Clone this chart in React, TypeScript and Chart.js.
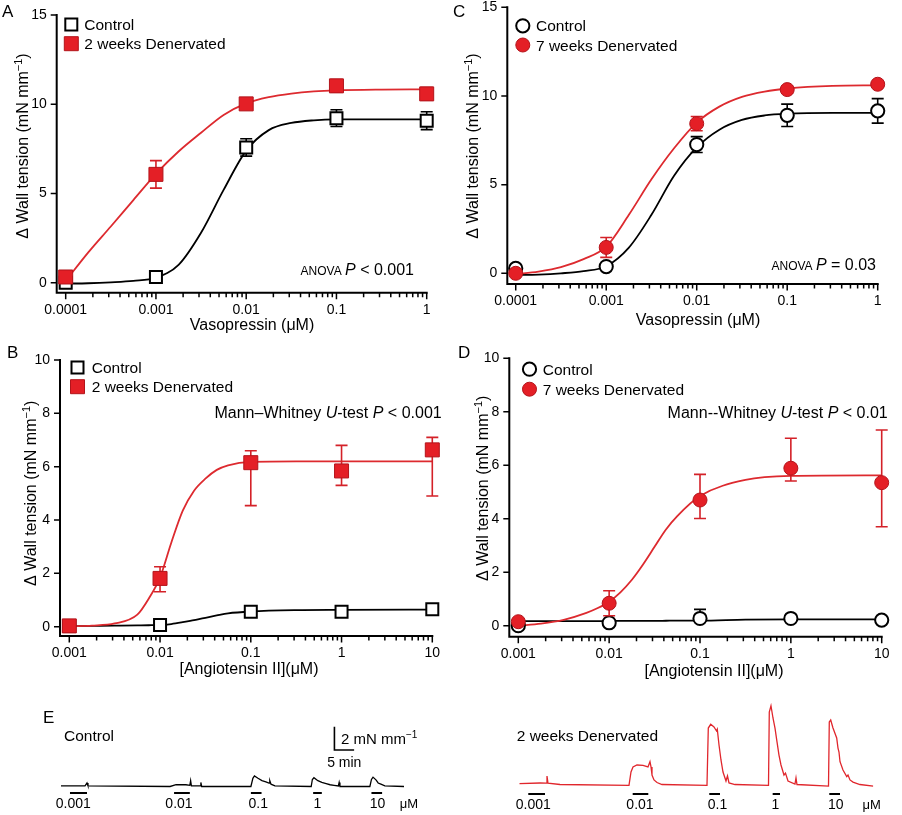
import React, { useEffect, useRef } from 'react';
import { Chart, registerables } from 'chart.js';

Chart.register(...registerables);

const FAMILY = '"Liberation Sans", Arial, Helvetica, sans-serif';
const RED = '#e41f26';
const RED_EDGE = '#b3141b';
const RED_LINE = '#dd2a2f';
const RED_ERR = '#d42128';
const RED_TRACE = '#e0262c';

// ---------- Vasopressin (panels A, C) ----------
const VASO_CONC = [0.0001, 0.001, 0.01, 0.1, 1];
const VASO_TICKS = [0.0001, 0.001, 0.01, 0.1, 1];
const VASO_TICK_LABELS = ['0.0001', '0.001', '0.01', '0.1', '1'];
const VASO_FIT_CONC = [0.0001, 0.000178, 0.000316, 0.000562, 0.001, 0.00178, 0.00316, 0.00562, 0.01, 0.0178, 0.0316, 0.0562, 0.1, 0.316, 1];
const VASO_Y_TICKS = [0, 5, 10, 15];
const VASO_Y_LABELS = ['0', '5', '10', '15'];

const A_CTRL_MEAN = [0.0, 0.32, 7.58, 9.22, 9.08];
const A_CTRL_SEM = [0.1, 0.12, 0.49, 0.47, 0.5];
const A_DEN_MEAN = [0.32, 6.07, 10.02, 11.03, 10.58];
const A_DEN_SEM = [0.15, 0.77, 0.22, 0.35, 0.35];
const A_CTRL_FIT = [-0.05, -0.03, 0.02, 0.1, 0.28, 1.0, 2.8, 5.2, 7.4, 8.55, 8.95, 9.1, 9.15, 9.15, 9.15];
const A_DEN_FIT = [0.1, 1.7, 3.15, 4.63, 6.1, 7.35, 8.4, 9.4, 10.05, 10.4, 10.6, 10.72, 10.78, 10.82, 10.83];

const C_CTRL_MEAN = [0.28, 0.38, 7.26, 8.91, 9.16];
const C_CTRL_SEM = [0.1, 0.1, 0.45, 0.63, 0.69];
const C_DEN_MEAN = [0.0, 1.46, 8.44, 10.36, 10.66];
const C_DEN_SEM = [0.1, 0.56, 0.4, 0.2, 0.15];
const C_CTRL_FIT = [-0.1, -0.07, 0.0, 0.12, 0.4, 1.45, 3.3, 5.5, 7.1, 8.1, 8.65, 8.9, 9.0, 9.05, 9.05];
const C_DEN_FIT = [-0.05, 0.1, 0.35, 0.8, 1.5, 3.3, 5.3, 7.05, 8.5, 9.4, 9.95, 10.25, 10.42, 10.57, 10.6];

// ---------- Angiotensin II (panels B, D) ----------
const ANG_CONC = [0.001, 0.01, 0.1, 1, 10];
const ANG_TICKS = [0.001, 0.01, 0.1, 1, 10];
const ANG_TICK_LABELS = ['0.001', '0.01', '0.1', '1', '10'];
const ANG_FIT_CONC = [0.001, 0.00178, 0.00316, 0.00562, 0.0075, 0.01, 0.0133, 0.0178, 0.0237, 0.0316, 0.0422, 0.0562, 0.1, 0.316, 1, 10];
const ANG_Y_TICKS = [0, 2, 4, 6, 8, 10];
const ANG_Y_LABELS = ['0', '2', '4', '6', '8', '10'];

const B_CTRL_MEAN = [0.03, 0.06, 0.56, 0.56, 0.65];
const B_CTRL_UP = [0.05, 0.05, 0.1, 0.1, 0.1];
const B_CTRL_DOWN = [0.05, 0.05, 0.1, 0.1, 0.1];
const B_DEN_MEAN = [0.03, 1.81, 6.15, 5.84, 6.63];
const B_DEN_UP = [0.05, 0.44, 0.45, 0.96, 0.47];
const B_DEN_DOWN = [0.05, 0.5, 1.61, 0.54, 1.73];
const B_CTRL_FIT = [0.02, 0.03, 0.04, 0.05, 0.055, 0.06, 0.1, 0.17, 0.25, 0.33, 0.42, 0.5, 0.57, 0.62, 0.63, 0.64];
const B_DEN_FIT = [0.02, 0.04, 0.12, 0.45, 1.05, 1.85, 3.15, 4.35, 5.1, 5.55, 5.88, 6.05, 6.18, 6.2, 6.2, 6.2];

const D_CTRL_MEAN = [0.0, 0.11, 0.27, 0.27, 0.21];
const D_CTRL_UP = [0.05, 0.05, 0.34, 0.05, 0.05];
const D_CTRL_DOWN = [0.05, 0.05, 0.05, 0.05, 0.05];
const D_DEN_MEAN = [0.15, 0.84, 4.7, 5.89, 5.35];
const D_DEN_UP = [0.05, 0.47, 0.96, 1.12, 1.97];
const D_DEN_DOWN = [0.05, 0.47, 0.69, 0.48, 1.65];
const D_CTRL_FIT = [0.17, 0.17, 0.17, 0.17, 0.17, 0.18, 0.18, 0.18, 0.18, 0.18, 0.185, 0.19, 0.19, 0.23, 0.24, 0.24];
const D_DEN_FIT = [0.0, 0.08, 0.22, 0.48, 0.66, 0.9, 1.25, 1.72, 2.3, 2.95, 3.6, 4.1, 4.85, 5.45, 5.6, 5.62];

// ---------- Panel E traces (time in min, tension in mN/mm) ----------
const E_CTRL_TIME = [0, 6.1, 6.6, 6.85, 27.7, 29.2, 31.7, 32.7, 32.9, 33.1, 35.4, 35.5, 35.7, 48.2, 48.7, 49.1, 50.0, 51.0, 52.0, 52.8, 53.0, 53.3, 54.3, 63.5, 63.8, 64.2, 65.2, 66.2, 67.3, 68.3, 69.3, 70.4, 70.6, 70.8, 78.4, 78.8, 79.2, 80.0, 80.5, 81.2, 82.2, 87.06];
const E_CTRL_TENSION = [0.05, 0.05, 0.3, 0.05, 0.0, 0.15, 0.15, 0.1, 0.5, 0.05, 0.05, 0.35, 0.0, 0.0, 0.7, 0.9, 0.7, 0.5, 0.4, 0.3, 0.5, 0.2, 0.05, 0.0, 0.6, 0.75, 0.5, 0.35, 0.25, 0.15, 0.1, 0.05, 0.35, 0.0, 0.0, 0.6, 0.8, 0.55, 0.3, 0.2, 0.05, 0.0];
const E_DEN_TIME = [0, 5.25, 6.78, 7.03, 7.28, 10.33, 27.84, 28.35, 28.86, 29.87, 31.4, 32.66, 33.17, 33.43, 33.68, 34.19, 34.95, 36.22, 47.64, 47.97, 48.58, 49.42, 50.05, 50.25, 50.69, 51.19, 51.7, 52.46, 52.84, 53.22, 54.75, 63.25, 63.45, 63.88, 64.39, 64.9, 65.41, 65.91, 66.42, 67.18, 67.56, 68.2, 69.97, 70.23, 70.48, 78.48, 78.68, 79.04, 79.62, 80.56, 80.89, 81.14, 81.4, 82.16, 83.1, 83.43, 83.93, 84.7, 86.45, 89.85];
const E_DEN_TENSION = [0.24, 0.3, 0.28, 0.9, 0.28, 0.17, 0.09, 1.24, 1.67, 1.84, 1.8, 1.67, 2.12, 1.67, 0.98, 0.56, 0.34, 0.17, 0.09, 5.0, 5.32, 5.09, 4.75, 4.9, 3.55, 2.27, 1.24, 0.47, 0.9, 0.3, 0.17, 0.09, 6.37, 6.91, 5.86, 5.0, 3.81, 2.69, 1.84, 0.98, 1.15, 0.47, 0.21, 0.73, 0.17, 0.04, 5.52, 5.69, 5.0, 4.15, 3.29, 2.95, 2.12, 1.41, 0.84, 0.98, 0.56, 0.38, 0.17, 0.04];
const DOSE_LABELS = ['0.001', '0.01', '0.1', '1', '10'];
const E_CTRL_APP_START = [2.28, 28.7, 48.2, 64.0, 78.8];
const E_CTRL_APP_END = [6.6, 32.7, 50.9, 66.2, 81.5];
const E_CTRL_LABEL_T = [3.12, 29.95, 50.08, 65.1, 80.33];
const E_DEN_APP_START = [2.28, 28.78, 48.22, 64.31, 78.68];
const E_DEN_APP_END = [6.52, 32.74, 50.94, 66.17, 81.4];
const E_DEN_LABEL_T = [3.55, 30.63, 50.3, 65.02, 80.33];
const SCALE_BAR_T = [69.4, 69.4, 74.4];
const SCALE_BAR_Y = [5.12, 3.12, 3.12];

type Part = { text: string; size: number; italic?: boolean; dy?: number };

function setFont(ctx: any, p: Part) {
  ctx.font = `${p.italic ? 'italic ' : ''}${p.size}px ${FAMILY}`;
}

function drawParts(ctx: any, parts: Part[], x: number, y: number, align: 'left' | 'right' | 'center') {
  let total = 0;
  const widths = parts.map((p) => {
    setFont(ctx, p);
    const w = ctx.measureText(p.text).width;
    total += w;
    return w;
  });
  let cx = align === 'left' ? x : align === 'right' ? x - total : x - total / 2;
  ctx.textAlign = 'left';
  ctx.textBaseline = 'alphabetic';
  ctx.fillStyle = '#000';
  parts.forEach((p, i) => {
    setFont(ctx, p);
    ctx.fillText(p.text, cx, y + (p.dy || 0));
    cx += widths[i];
  });
}

function drawLegendMarker(ctx: any, shape: string, filled: boolean, x: number, y: number) {
  ctx.save();
  ctx.beginPath();
  if (shape === 'rect') {
    const s = filled ? 14 : 12;
    ctx.rect(x - s / 2, y - s / 2, s, s);
  } else {
    ctx.arc(x, y, filled ? 7 : 6.6, 0, Math.PI * 2);
  }
  ctx.fillStyle = filled ? RED : '#fff';
  ctx.fill();
  ctx.lineWidth = filled ? 1 : 2;
  ctx.strokeStyle = filled ? RED_EDGE : '#000';
  ctx.stroke();
  ctx.restore();
}

function drawErrorBars(chart: any, ds: any) {
  const ctx = chart.ctx;
  const xs = chart.scales.x;
  const ys = chart.scales.y;
  ctx.save();
  ctx.strokeStyle = ds.errColor;
  ctx.lineWidth = 1.6;
  ctx.beginPath();
  ds.data.forEach((p: any, i: number) => {
    const px = xs.getPixelForValue(p.x);
    const yt = ys.getPixelForValue(p.y + ds.errUp[i]);
    const yb = ys.getPixelForValue(p.y - ds.errDown[i]);
    ctx.moveTo(px, yt);
    ctx.lineTo(px, yb);
    ctx.moveTo(px - 6, yt);
    ctx.lineTo(px + 6, yt);
    ctx.moveTo(px - 6, yb);
    ctx.lineTo(px + 6, yb);
  });
  ctx.stroke();
  ctx.restore();
}

const Y_TITLE: Part[] = [
  { text: 'Δ Wall tension (mN mm', size: 16 },
  { text: '−1', size: 11, dy: -6 },
  { text: ')', size: 16 },
];

type PanelSpec = {
  left: number; top: number; width: number; height: number;
  area: { l: number; r: number; t: number; b: number };
  xMin: number; xMax: number; yMin: number; yMax: number;
  xTicks: number[]; xLabels: string[]; yTicks: number[]; yLabels: string[];
  conc: number[];
  ctrlMean: number[]; ctrlUp: number[]; ctrlDown: number[];
  denMean: number[]; denUp: number[]; denDown: number[];
  fitConc: number[]; ctrlFit: number[]; denFit: number[];
  shape: 'rect' | 'circle';
  ctrlLabel: string; denLabel: string;
  letter: string; letterPos: [number, number];
  legendX: number; legendY: [number, number]; legendTextX: number;
  yTitlePos: [number, number];
  xTitle: string; xTitlePos: [number, number];
  note: Part[]; notePos: [number, number];
};

function panelPlugin(s: PanelSpec) {
  const X = (p: number) => p - s.left;
  const Y = (p: number) => p - s.top;
  const minor: number[] = [];
  for (let i = 0; i < s.xTicks.length - 1; i++) {
    for (let k = 2; k <= 9; k++) minor.push(s.xTicks[i] * k);
  }
  return {
    id: 'decor' + s.letter,
    beforeDatasetsDraw(chart: any) {
      const { ctx, chartArea: a } = chart;
      const xs = chart.scales.x;
      const ys = chart.scales.y;
      ctx.save();
      ctx.strokeStyle = '#000';
      ctx.lineWidth = 2;
      ctx.lineCap = 'square';
      ctx.beginPath();
      ctx.moveTo(a.left, a.top);
      ctx.lineTo(a.left, a.bottom);
      ctx.lineTo(a.right, a.bottom);
      ctx.stroke();
      ctx.lineCap = 'butt';
      ctx.lineWidth = 1.5;
      ctx.beginPath();
      s.yTicks.forEach((v) => {
        const p = ys.getPixelForValue(v);
        ctx.moveTo(a.left - 6, p);
        ctx.lineTo(a.left, p);
      });
      s.xTicks.forEach((v) => {
        const p = xs.getPixelForValue(v);
        ctx.moveTo(p, a.bottom);
        ctx.lineTo(p, a.bottom + 6.5);
      });
      minor.forEach((v) => {
        const p = xs.getPixelForValue(v);
        ctx.moveTo(p, a.bottom);
        ctx.lineTo(p, a.bottom + 4.5);
      });
      ctx.stroke();
      ctx.restore();
    },
    beforeDatasetDraw(chart: any, args: any) {
      const ds = chart.data.datasets[args.index];
      if (ds.errUp) drawErrorBars(chart, ds);
    },
    afterDraw(chart: any) {
      const ctx = chart.ctx;
      ctx.save();
      drawParts(ctx, [{ text: s.letter, size: 17 }], X(s.letterPos[0]), Y(s.letterPos[1]), 'left');
      drawLegendMarker(ctx, s.shape, false, X(s.legendX), Y(s.legendY[0]));
      drawLegendMarker(ctx, s.shape, true, X(s.legendX), Y(s.legendY[1]));
      drawParts(ctx, [{ text: s.ctrlLabel, size: 15.5 }], X(s.legendTextX), Y(s.legendY[0]) + 5.6, 'left');
      drawParts(ctx, [{ text: s.denLabel, size: 15.5 }], X(s.legendTextX), Y(s.legendY[1]) + 5.6, 'left');
      drawParts(ctx, [{ text: s.xTitle, size: 16 }], X(s.xTitlePos[0]), Y(s.xTitlePos[1]) + 5.8, 'center');
      drawParts(ctx, s.note, X(s.notePos[0]), Y(s.notePos[1]) + 5.8, 'right');
      ctx.save();
      ctx.translate(X(s.yTitlePos[0]), Y(s.yTitlePos[1]));
      ctx.rotate(-Math.PI / 2);
      drawParts(ctx, Y_TITLE, 0, 5.8, 'center');
      ctx.restore();
      ctx.restore();
    },
  };
}

function makePanelConfig(s: PanelSpec): any {
  const pts = (xs: number[], ys: number[]) => xs.map((x, i) => ({ x, y: ys[i] }));
  const filledR = s.shape === 'rect' ? 9.9 : 7;
  const openR = s.shape === 'rect' ? 8.49 : 6.6;
  const tickFont = { family: FAMILY, size: 14, lineHeight: 1 };
  return {
    type: 'line',
    data: {
      datasets: [
        {
          label: s.denLabel, data: pts(s.conc, s.denMean), showLine: false,
          pointStyle: s.shape, pointRadius: filledR, pointHoverRadius: filledR,
          pointBackgroundColor: RED, pointBorderColor: RED_EDGE, pointBorderWidth: 1,
          clip: false, errUp: s.denUp, errDown: s.denDown, errColor: RED_ERR,
        },
        {
          label: s.ctrlLabel, data: pts(s.conc, s.ctrlMean), showLine: false,
          pointStyle: s.shape, pointRadius: openR, pointHoverRadius: openR,
          pointBackgroundColor: '#ffffff', pointBorderColor: '#000000', pointBorderWidth: 2,
          clip: false, errUp: s.ctrlUp, errDown: s.ctrlDown, errColor: '#000000',
        },
        {
          label: s.denLabel + ' fit', data: pts(s.fitConc, s.denFit),
          borderColor: RED_LINE, borderWidth: 1.8, pointRadius: 0, cubicInterpolationMode: 'monotone',
        },
        {
          label: s.ctrlLabel + ' fit', data: pts(s.fitConc, s.ctrlFit),
          borderColor: '#000000', borderWidth: 1.8, pointRadius: 0, cubicInterpolationMode: 'monotone',
        },
      ],
    },
    options: {
      responsive: false,
      animation: false,
      devicePixelRatio: 1,
      events: [],
      layout: {
        padding: { left: 0, top: s.area.t - s.top, right: s.left + s.width - s.area.r, bottom: 0 },
      },
      plugins: { legend: { display: false }, tooltip: { enabled: false }, title: { display: false } },
      scales: {
        x: {
          type: 'logarithmic', position: 'bottom', min: s.xMin, max: s.xMax,
          afterBuildTicks: (sc: any) => { sc.ticks = s.xTicks.map((v) => ({ value: v })); },
          afterFit: (sc: any) => { sc.height = s.top + s.height - s.area.b; },
          grid: { display: false, drawTicks: true, tickLength: 10 },
          border: { display: false },
          ticks: {
            autoSkip: false, maxRotation: 0, minRotation: 0, padding: 0, color: '#000',
            font: tickFont, callback: (_v: any, i: number) => s.xLabels[i] ?? '',
          },
        },
        y: {
          type: 'linear', position: 'left', min: s.yMin, max: s.yMax,
          afterBuildTicks: (sc: any) => { sc.ticks = s.yTicks.map((v) => ({ value: v })); },
          afterFit: (sc: any) => { sc.width = s.area.l - s.left; },
          grid: { display: false, drawTicks: true, tickLength: 10 },
          border: { display: false },
          ticks: {
            autoSkip: false, padding: 0, color: '#000', font: tickFont,
            callback: (_v: any, i: number) => s.yLabels[i] ?? '',
          },
        },
      },
    },
    plugins: [panelPlugin(s)],
  };
}

const PANEL_A: PanelSpec = {
  left: 0, top: -20, width: 450, height: 355,
  area: { l: 56.7, r: 426.7, t: 15, b: 292.7 },
  xMin: 0.0000795, xMax: 1, yMin: -0.56, yMax: 15,
  xTicks: VASO_TICKS, xLabels: VASO_TICK_LABELS, yTicks: VASO_Y_TICKS, yLabels: VASO_Y_LABELS,
  conc: VASO_CONC, ctrlMean: A_CTRL_MEAN, ctrlUp: A_CTRL_SEM, ctrlDown: A_CTRL_SEM,
  denMean: A_DEN_MEAN, denUp: A_DEN_SEM, denDown: A_DEN_SEM,
  fitConc: VASO_FIT_CONC, ctrlFit: A_CTRL_FIT, denFit: A_DEN_FIT,
  shape: 'rect', ctrlLabel: 'Control', denLabel: '2 weeks Denervated',
  letter: 'A', letterPos: [2, 17],
  legendX: 71.3, legendY: [24.5, 43.7], legendTextX: 84.3,
  yTitlePos: [22, 146], xTitle: 'Vasopressin (μM)', xTitlePos: [252, 324],
  note: [{ text: 'ANOVA ', size: 12 }, { text: 'P', size: 16, italic: true }, { text: ' < 0.001', size: 16 }],
  notePos: [414, 269.3],
};

const PANEL_C: PanelSpec = {
  left: 450, top: -20, width: 452, height: 355,
  area: { l: 507.3, r: 877.7, t: 7.3, b: 284 },
  xMin: 0.0000807, xMax: 1, yMin: -0.603, yMax: 15,
  xTicks: VASO_TICKS, xLabels: VASO_TICK_LABELS, yTicks: VASO_Y_TICKS, yLabels: VASO_Y_LABELS,
  conc: VASO_CONC, ctrlMean: C_CTRL_MEAN, ctrlUp: C_CTRL_SEM, ctrlDown: C_CTRL_SEM,
  denMean: C_DEN_MEAN, denUp: C_DEN_SEM, denDown: C_DEN_SEM,
  fitConc: VASO_FIT_CONC, ctrlFit: C_CTRL_FIT, denFit: C_DEN_FIT,
  shape: 'circle', ctrlLabel: 'Control', denLabel: '7 weeks Denervated',
  letter: 'C', letterPos: [453, 17],
  legendX: 522.8, legendY: [25.8, 45], legendTextX: 536,
  yTitlePos: [471.7, 146], xTitle: 'Vasopressin (μM)', xTitlePos: [698, 319],
  note: [{ text: 'ANOVA ', size: 12 }, { text: 'P', size: 16, italic: true }, { text: ' = 0.03', size: 16 }],
  notePos: [876, 264.3],
};

const PANEL_B: PanelSpec = {
  left: 0, top: 335, width: 450, height: 350,
  area: { l: 60, r: 432.3, t: 360, b: 636 },
  xMin: 0.00079, xMax: 10, yMin: -0.349, yMax: 10,
  xTicks: ANG_TICKS, xLabels: ANG_TICK_LABELS, yTicks: ANG_Y_TICKS, yLabels: ANG_Y_LABELS,
  conc: ANG_CONC, ctrlMean: B_CTRL_MEAN, ctrlUp: B_CTRL_UP, ctrlDown: B_CTRL_DOWN,
  denMean: B_DEN_MEAN, denUp: B_DEN_UP, denDown: B_DEN_DOWN,
  fitConc: ANG_FIT_CONC, ctrlFit: B_CTRL_FIT, denFit: B_DEN_FIT,
  shape: 'rect', ctrlLabel: 'Control', denLabel: '2 weeks Denervated',
  letter: 'B', letterPos: [7, 358],
  legendX: 77.5, legendY: [367.5, 386.7], legendTextX: 91.7,
  yTitlePos: [30, 493.3], xTitle: '[Angiotensin II](μM)', xTitlePos: [249, 668.3],
  note: [
    { text: 'Mann–Whitney ', size: 16 }, { text: 'U', size: 16, italic: true }, { text: '-test ', size: 16 },
    { text: 'P', size: 16, italic: true }, { text: ' < 0.001', size: 16 },
  ],
  notePos: [441.7, 411.7],
};

const PANEL_D: PanelSpec = {
  left: 450, top: 335, width: 452, height: 350,
  area: { l: 509.3, r: 881.7, t: 358.3, b: 636.7 },
  xMin: 0.000796, xMax: 10, yMin: -0.411, yMax: 10,
  xTicks: ANG_TICKS, xLabels: ANG_TICK_LABELS, yTicks: ANG_Y_TICKS, yLabels: ANG_Y_LABELS,
  conc: ANG_CONC, ctrlMean: D_CTRL_MEAN, ctrlUp: D_CTRL_UP, ctrlDown: D_CTRL_DOWN,
  denMean: D_DEN_MEAN, denUp: D_DEN_UP, denDown: D_DEN_DOWN,
  fitConc: ANG_FIT_CONC, ctrlFit: D_CTRL_FIT, denFit: D_DEN_FIT,
  shape: 'circle', ctrlLabel: 'Control', denLabel: '7 weeks Denervated',
  letter: 'D', letterPos: [458, 358],
  legendX: 529.5, legendY: [369.2, 389.2], legendTextX: 542.7,
  yTitlePos: [481.7, 488.3], xTitle: '[Angiotensin II](μM)', xTitlePos: [714, 670],
  note: [
    { text: 'Mann--Whitney ', size: 16 }, { text: 'U', size: 16, italic: true }, { text: '-test ', size: 16 },
    { text: 'P', size: 16, italic: true }, { text: ' < 0.01', size: 16 },
  ],
  notePos: [887.7, 411.7],
};

type TraceSpec = {
  left: number; top: number; width: number; height: number;
  area: { l: number; r: number; t: number; b: number };
  xMax: number;
  time: number[]; tension: number[]; color: string;
  appStart: number[]; appEnd: number[]; labelT: number[]; unitT: number;
  barOffset: number; labelOffset: number;
  title: string; titlePos: [number, number];
  withScaleBar: boolean; withLetter: boolean;
};

function tracePlugin(s: TraceSpec) {
  const X = (p: number) => p - s.left;
  const Y = (p: number) => p - s.top;
  return {
    id: 'trace' + s.left,
    afterDraw(chart: any) {
      const ctx = chart.ctx;
      const xs = chart.scales.x;
      const ys = chart.scales.y;
      const y0 = ys.getPixelForValue(0);
      ctx.save();
      ctx.strokeStyle = '#000';
      ctx.lineWidth = 2;
      ctx.beginPath();
      s.appStart.forEach((t0, i) => {
        ctx.moveTo(xs.getPixelForValue(t0), y0 + s.barOffset);
        ctx.lineTo(xs.getPixelForValue(s.appEnd[i]), y0 + s.barOffset);
      });
      ctx.stroke();
      DOSE_LABELS.forEach((lab, i) => {
        drawParts(ctx, [{ text: lab, size: 14 }], xs.getPixelForValue(s.labelT[i]), y0 + s.labelOffset + 5, 'center');
      });
      drawParts(ctx, [{ text: 'μM', size: 13 }], xs.getPixelForValue(s.unitT), y0 + s.labelOffset + 5, 'center');
      drawParts(ctx, [{ text: s.title, size: 15.5 }], X(s.titlePos[0]), Y(s.titlePos[1]) + 5.6, 'left');
      if (s.withLetter) drawParts(ctx, [{ text: 'E', size: 17 }], X(43), Y(723), 'left');
      if (s.withScaleBar) {
        const bx = xs.getPixelForValue(SCALE_BAR_T[0]);
        const top = ys.getPixelForValue(SCALE_BAR_Y[0]);
        const bot = ys.getPixelForValue(SCALE_BAR_Y[1]);
        const mid = (top + bot) / 2;
        drawParts(ctx, [{ text: '2 mN mm', size: 15 }, { text: '−1', size: 10, dy: -6 }], bx + 6.5, mid + 5.4, 'left');
        const bx2 = xs.getPixelForValue(SCALE_BAR_T[2]);
        drawParts(ctx, [{ text: '5 min', size: 14 }], (bx + bx2) / 2, bot + 17, 'center');
      }
      ctx.restore();
    },
  };
}

function makeTraceConfig(s: TraceSpec): any {
  const datasets: any[] = [
    {
      label: s.title, data: s.time.map((t, i) => ({ x: t, y: s.tension[i] })),
      borderColor: s.color, borderWidth: 1.3, pointRadius: 0, tension: 0,
    },
  ];
  if (s.withScaleBar) {
    datasets.push({
      label: 'scale bar', data: SCALE_BAR_T.map((t, i) => ({ x: t, y: SCALE_BAR_Y[i] })),
      borderColor: '#000', borderWidth: 1.6, pointRadius: 0, tension: 0,
    });
  }
  return {
    type: 'line',
    data: { datasets },
    options: {
      responsive: false, animation: false, devicePixelRatio: 1, events: [],
      layout: {
        padding: {
          left: s.area.l - s.left, right: s.left + s.width - s.area.r,
          top: s.area.t - s.top, bottom: s.top + s.height - s.area.b,
        },
      },
      plugins: { legend: { display: false }, tooltip: { enabled: false } },
      scales: {
        x: { type: 'linear', display: false, min: 0, max: s.xMax },
        y: { type: 'linear', display: false, min: -0.3, max: 7.4 },
      },
    },
    plugins: [tracePlugin(s)],
  };
}

const TRACE_CTRL: TraceSpec = {
  left: 0, top: 690, width: 450, height: 125,
  area: { l: 61, r: 404, t: 700, b: 790 }, xMax: 87.06,
  time: E_CTRL_TIME, tension: E_CTRL_TENSION, color: '#000000',
  appStart: E_CTRL_APP_START, appEnd: E_CTRL_APP_END, labelT: E_CTRL_LABEL_T, unitT: 88.3,
  barOffset: 6.5, labelOffset: 16.2,
  title: 'Control', titlePos: [64, 735],
  withScaleBar: true, withLetter: true,
};

const TRACE_DEN: TraceSpec = {
  left: 450, top: 690, width: 452, height: 125,
  area: { l: 519.3, r: 873.3, t: 700, b: 790 }, xMax: 89.85,
  time: E_DEN_TIME, tension: E_DEN_TENSION, color: RED_TRACE,
  appStart: E_DEN_APP_START, appEnd: E_DEN_APP_END, labelT: E_DEN_LABEL_T, unitT: 89.44,
  barOffset: 7.5, labelOffset: 17.5,
  title: '2 weeks Denervated', titlePos: [516.7, 735],
  withScaleBar: false, withLetter: false,
};

function ChartCanvas(props: { left: number; top: number; width: number; height: number; make: () => any }) {
  const ref = useRef<HTMLCanvasElement>(null);
  useEffect(() => {
    const chart = new Chart(ref.current as HTMLCanvasElement, props.make());
    return () => chart.destroy();
  }, []);
  return (
    <canvas
      ref={ref}
      width={props.width}
      height={props.height}
      style={{ position: 'absolute', left: props.left, top: props.top, width: props.width, height: props.height }}
    />
  );
}

export default function App() {
  return (
    <div style={{ position: 'absolute', left: 0, top: 0, width: 902, height: 815, overflow: 'hidden', background: '#ffffff' }}>
      <ChartCanvas left={PANEL_A.left} top={PANEL_A.top} width={PANEL_A.width} height={PANEL_A.height} make={() => makePanelConfig(PANEL_A)} />
      <ChartCanvas left={PANEL_C.left} top={PANEL_C.top} width={PANEL_C.width} height={PANEL_C.height} make={() => makePanelConfig(PANEL_C)} />
      <ChartCanvas left={PANEL_B.left} top={PANEL_B.top} width={PANEL_B.width} height={PANEL_B.height} make={() => makePanelConfig(PANEL_B)} />
      <ChartCanvas left={PANEL_D.left} top={PANEL_D.top} width={PANEL_D.width} height={PANEL_D.height} make={() => makePanelConfig(PANEL_D)} />
      <ChartCanvas left={TRACE_CTRL.left} top={TRACE_CTRL.top} width={TRACE_CTRL.width} height={TRACE_CTRL.height} make={() => makeTraceConfig(TRACE_CTRL)} />
      <ChartCanvas left={TRACE_DEN.left} top={TRACE_DEN.top} width={TRACE_DEN.width} height={TRACE_DEN.height} make={() => makeTraceConfig(TRACE_DEN)} />
    </div>
  );
}
